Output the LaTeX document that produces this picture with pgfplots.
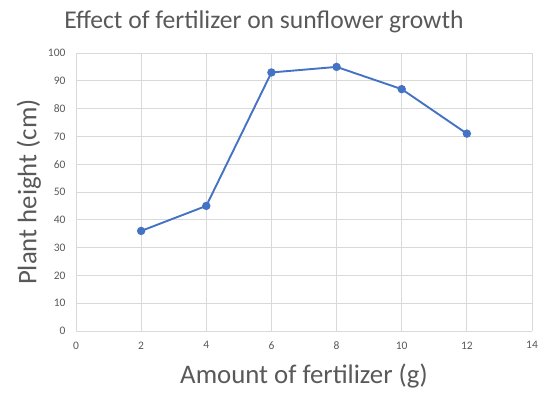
\documentclass[border=0pt]{standalone}
\usepackage{pgfplots}
\pgfplotsset{compat=1.18}
\usepackage{fontspec}
\setmainfont{Carlito}
\definecolor{txt}{HTML}{595959}
\definecolor{grd}{HTML}{D9D9D9}
\definecolor{ser}{HTML}{4472C4}
\begin{document}
\begin{tikzpicture}[x=1pt,y=1pt]
\useasboundingbox (0,0) rectangle (545,394);
\node[text=txt,font=\fontsize{25.6}{30}\selectfont] at (264,372) {Effect of fertilizer on sunflower growth};
\node[text=txt,font=\fontsize{26.8}{32}\selectfont] at (304,18) {Amount of fertilizer (g)};
\node[text=txt,font=\fontsize{26.8}{32}\selectfont,rotate=90] at (29,202) {Plant height (cm)};
\begin{axis}[
  at={(76pt,63pt)}, anchor=south west,
  scale only axis, width=456pt, height=278pt,
  xmin=0, xmax=14, ymin=0, ymax=100,
  xtick={0,2,...,14}, ytick={0,10,...,100},
  grid=major, grid style={grd, line width=0.75pt},
  axis line style={draw=none},
  major tick length=0pt,
  tick label style={text=txt, font=\fontsize{11.5}{13}\selectfont},
  /pgf/number format/assume math mode=true,
  xticklabel style={yshift=-7pt},
  yticklabel style={xshift=-7pt},
]
\addplot[color=ser, line width=1.9pt, mark=*, mark size=3.2pt, mark options={fill=ser, draw=ser}]
  coordinates {(2,36) (4,45) (6,93) (8,95) (10,87) (12,71)};
\end{axis}
\end{tikzpicture}
\end{document}
